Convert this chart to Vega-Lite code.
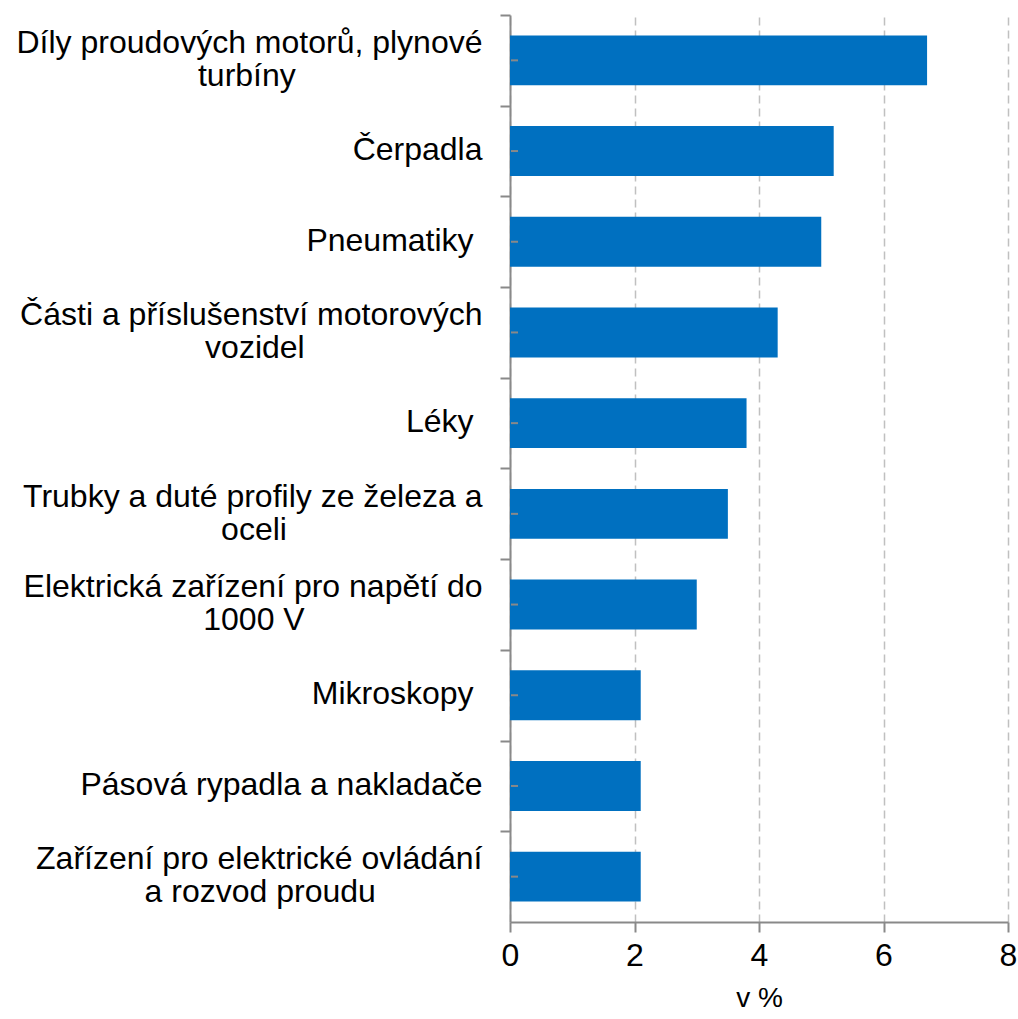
{
  "$schema": "https://vega.github.io/schema/vega-lite/v6.json",
  "autosize": "none",
  "width": 498,
  "height": 907,
  "padding": {"left": 510, "top": 15, "right": 10, "bottom": 97},
  "background": "white",
  "config": {"view": {"stroke": null}, "font": "Liberation Sans"},
  "data": {"values": [
    {"kategorie": "Díly proudových motorů, plynové|turbíny", "hodnota": 6.7},
    {"kategorie": "Čerpadla", "hodnota": 5.2},
    {"kategorie": "Pneumatiky ", "hodnota": 5.0},
    {"kategorie": "Části a příslušenství motorových|vozidel", "hodnota": 4.3},
    {"kategorie": "Léky ", "hodnota": 3.8},
    {"kategorie": "Trubky a duté profily ze železa a|oceli", "hodnota": 3.5},
    {"kategorie": "Elektrická zařízení pro napětí do|1000 V", "hodnota": 3.0},
    {"kategorie": "Mikroskopy ", "hodnota": 2.1},
    {"kategorie": "Pásová rypadla a nakladače", "hodnota": 2.1},
    {"kategorie": "Zařízení pro elektrické ovládání|a rozvod proudu", "hodnota": 2.1}
  ]},
  "encoding": {
    "y": {
      "field": "kategorie",
      "type": "nominal",
      "sort": null,
      "scale": {"paddingInner": 0.45, "paddingOuter": 0.225},
      "axis": {
        "title": null,
        "labelExpr": "indexof(datum.label, '|') >= 0 ? [split(datum.label, '|')[0], '\u00a0\u200b', pad(split(datum.label, '|')[1], length(split(datum.label, '|')[1]) + (indexof(datum.label, 'Díly') == 0 ? 21 : indexof(datum.label, 'Části') == 0 ? 20 : indexof(datum.label, 'Trubky') == 0 ? 22 : indexof(datum.label, 'Elektrická') == 0 ? 20 : 12), '\u00a0\u200b')] : ['\u00a0\u200b', substring(datum.label, length(datum.label) - 1) == ' ' ? trim(datum.label) + '\u00a0\u200b' : datum.label]",
        "labelFontSize": 32,
        "labelColor": "#000000",
        "labelLineHeight": 16.5,
        "labelLimit": 800,
        "labelPadding": 18,
        "tickOffset": -45.35,
        "labelOffset": 27.5,
        "tickSize": 10,
        "tickWidth": 2,
        "tickColor": "#898989",
        "domainColor": "#898989",
        "domainWidth": 2,
        "grid": false
      }
    }
  },
  "layer": [
    {
      "mark": {"type": "bar", "color": "#0070C0"},
      "encoding": {
        "x": {
          "field": "hodnota",
          "type": "quantitative",
          "scale": {"domain": [0, 8], "nice": false},
          "axis": {
            "title": "v %",
            "titleFontSize": 28,
            "titleFontWeight": "normal",
            "titleColor": "#000000",
            "titlePadding": 13,
            "values": [0, 2, 4, 6, 8],
            "format": "d",
            "labelFlush": false,
            "labelFontSize": 32,
            "labelColor": "#000000",
            "labelPadding": 8,
            "tickSize": 10,
            "tickWidth": 2,
            "tickColor": "#898989",
            "domainColor": "#898989",
            "domainWidth": 2,
            "grid": true,
            "gridColor": "#C0C0C0",
            "gridWidth": 1.5,
            "gridDash": [8, 5]
          }
        }
      }
    },
    {
      "mark": {"type": "tick", "orient": "horizontal", "size": 7, "thickness": 2, "color": "#898989", "opacity": 1, "xOffset": 4.5},
      "encoding": {
        "x": {"datum": 0, "type": "quantitative"}
      }
    }
  ]
}
